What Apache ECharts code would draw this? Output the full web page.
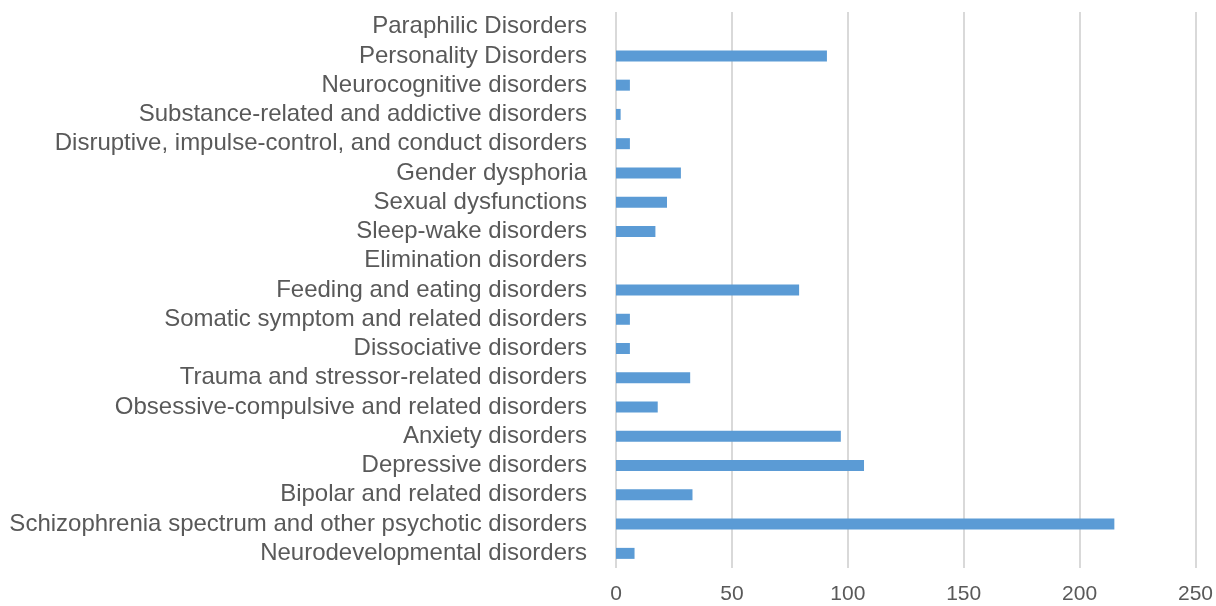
<!DOCTYPE html>
<html>
<head>
<meta charset="utf-8" />
<title>disorders</title>
<script src="https://cdn.jsdelivr.net/npm/echarts@6/dist/echarts.min.js"></script>
<style>
  html, body { margin: 0; padding: 0; background: #fff; }
  #chart { width: 1216px; height: 606px; }
</style>
</head>
<body>
<div id="chart"></div>
<script>
// categories listed bottom to top (ECharts category y axis starts at the bottom)
var categories = [
  'Neurodevelopmental disorders',
  'Schizophrenia spectrum and other psychotic disorders',
  'Bipolar and related disorders',
  'Depressive disorders',
  'Anxiety disorders',
  'Obsessive-compulsive and related disorders',
  'Trauma and stressor-related disorders',
  'Dissociative disorders',
  'Somatic symptom and related disorders',
  'Feeding and eating disorders',
  'Elimination disorders',
  'Sleep-wake disorders',
  'Sexual dysfunctions',
  'Gender dysphoria',
  'Disruptive, impulse-control, and conduct disorders',
  'Substance-related and addictive disorders',
  'Neurocognitive disorders',
  'Personality Disorders',
  'Paraphilic Disorders'
];
var counts = [8, 215, 33, 107, 97, 18, 32, 6, 6, 79, 0, 17, 22, 28, 6, 2, 6, 91, 0];
var xTicks = [0, 50, 100, 150, 200, 250];

var chart = echarts.init(document.getElementById('chart'));
chart.setOption({
  animation: false,
  grid: { left: 616, right: 20, top: 12, bottom: 38 },
  xAxis: {
    type: 'value',
    min: xTicks[0],
    max: xTicks[xTicks.length - 1],
    interval: 50,
    axisLine: { show: false },
    axisTick: { show: false },
    axisLabel: { color: '#595959', fontSize: 21, fontFamily: 'Liberation Sans', margin: 16 },
    splitLine: { lineStyle: { color: '#d9d9d9', width: 2 } }
  },
  yAxis: {
    type: 'category',
    data: categories,
    axisLine: { show: false },
    axisTick: { show: false },
    axisLabel: { color: '#595959', fontSize: 24, fontFamily: 'Liberation Sans', margin: 29, interval: 0 }
  },
  series: [{
    type: 'bar',
    data: counts,
    barWidth: 11,
    itemStyle: { color: '#5b9bd5' }
  }]
});
</script>
</body>
</html>
